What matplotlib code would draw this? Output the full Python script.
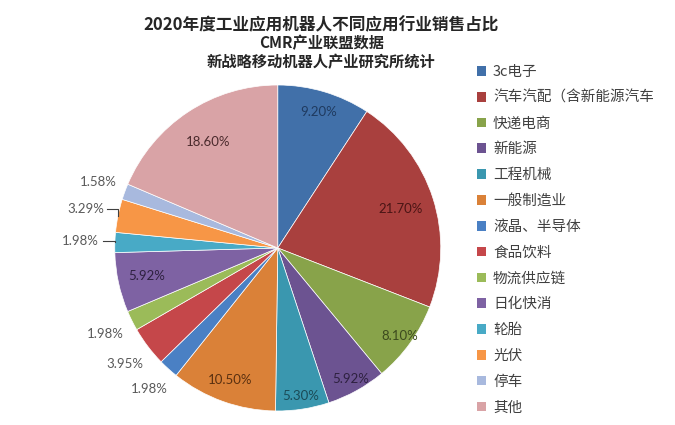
import matplotlib
matplotlib.use("Agg")
import matplotlib.pyplot as plt
import matplotlib.patches as mpatches
import numpy as np

plt.rcParams['font.family'] = ['Noto Sans CJK SC', 'DejaVu Sans']

categories = ["3c电子", "汽车汽配（含新能源汽车", "快递电商", "新能源", "工程机械", "一般制造业",
              "液晶、半导体", "食品饮料", "物流供应链", "日化快消", "轮胎", "光伏", "停车", "其他"]
values = [9.20, 21.70, 8.10, 5.92, 5.30, 10.50, 1.98, 3.95, 1.98, 5.92, 1.98, 3.29, 1.58, 18.60]
labels = ["9.20%", "21.70%", "8.10%", "5.92%", "5.30%", "10.50%", "1.98%", "3.95%", "1.98%",
          "5.92%", "1.98%", "3.29%", "1.58%", "18.60%"]

colors = ['#4170A9', '#A9403E', '#88A34A', '#6C5391', '#3A97AF', '#DA8138', '#4A80C4',
          '#C5474A', '#9BBB59', '#7E62A3', '#48AAC6', '#F79646', '#A8B9DE', '#D9A3A6']
# label radius (fraction of pie radius) and text colour per slice
label_r = [0.87, 0.79, 0.92, 0.92, 0.92, 0.86, 1.17, 1.18, 1.18, 0.82, 1.215, 1.20, 1.17, 0.78]
label_c = ['#1F3A5F', '#4A1515', '#3C4A1E', '#2E2140', '#1B4B57', '#5A3010', '#595959',
           '#595959', '#595959', '#2E2140', '#595959', '#595959', '#595959', '#4A2A2C']
leader = [10, 11]

fig = plt.figure(figsize=(6.75, 4.25), dpi=100)
ax = fig.add_axes([0.170, 0.033, 0.483, 0.767])
wedges, _ = ax.pie(values, colors=colors, startangle=90, counterclock=False,
                   wedgeprops=dict(edgecolor='white', linewidth=0.5))
ax.set_xlim(-1, 1)
ax.set_ylim(-1, 1)
ax.set_aspect('equal')

for i, (w, lab, r, c) in enumerate(zip(wedges, labels, label_r, label_c)):
    ang = np.deg2rad((w.theta1 + w.theta2) / 2)
    x, y = r * np.cos(ang), r * np.sin(ang)
    ax.text(x, y, lab, ha='center', va='center', fontsize=9.5, color=c, clip_on=False,
            family=['Lato', 'DejaVu Sans'])
    if i in leader:
        xe, ye = np.cos(ang), np.sin(ang)
        ax.plot([xe - 0.07, xe, xe], [y, y, ye], color='#404040', lw=0.8, clip_on=False)

tx = 0.476
fig.text(tx, 0.941, "2020年度工业应用机器人不同应用行业销售占比", ha='center', va='center',
         fontsize=12, fontweight='bold', color='#262626')
fig.text(tx, 0.899, "CMR产业联盟数据", ha='center', va='center',
         fontsize=11, fontweight='bold', color='#262626')
fig.text(tx, 0.854, "新战略移动机器人产业研究所统计", ha='center', va='center',
         fontsize=11, fontweight='bold', color='#262626')

handles = [mpatches.Patch(facecolor=c, edgecolor='none') for c in colors]
leg = fig.legend(handles, categories, loc='upper left', bbox_to_anchor=(0.698, 0.861),
                 frameon=False, fontsize=10.5, handlelength=0.65, handleheight=0.65,
                 handletextpad=0.45, labelspacing=0.81, borderaxespad=0)
for t in leg.get_texts():
    t.set_color('#404040')

fig.savefig("out.png", dpi=100)
